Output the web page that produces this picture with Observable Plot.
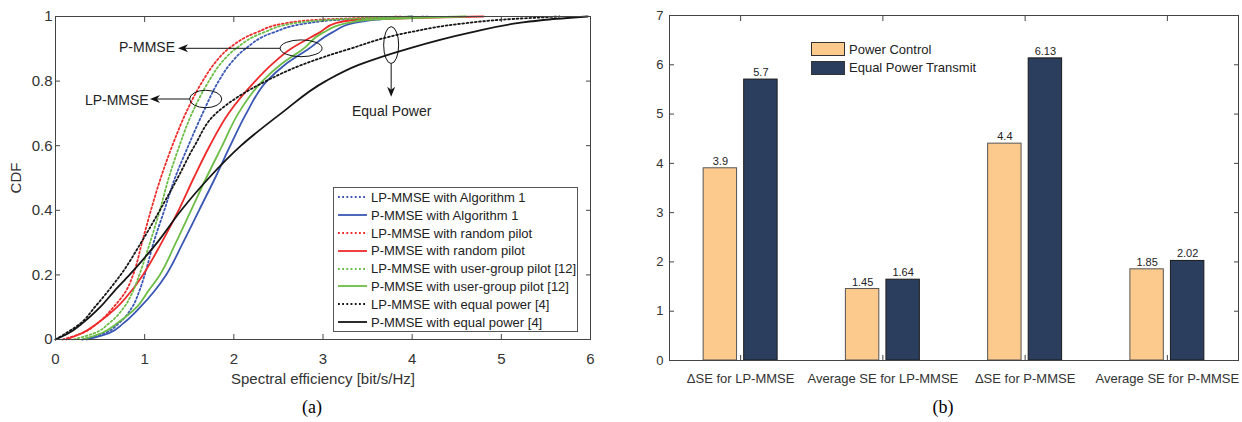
<!DOCTYPE html>
<html><head><meta charset="utf-8">
<script src="https://cdn.jsdelivr.net/npm/d3@7"></script>
<script src="https://cdn.jsdelivr.net/npm/@observablehq/plot@0.6"></script>
<style>
body{margin:0;background:#fff;font-family:"Liberation Sans",Arial,sans-serif;}
#wrap{position:relative;width:1242px;height:422px;overflow:hidden;background:#fff}
.panel{position:absolute;top:0}
.cap{position:absolute;top:397px;font-family:"Liberation Serif","Times New Roman",serif;font-size:18px;color:#000;transform:translateX(-50%);line-height:21px}
#legA{position:absolute;left:333px;top:187px;width:245px;height:145px;border:1px solid #555;background:#fff;box-sizing:border-box}
.row{position:absolute;left:0;height:18px;display:flex;align-items:center;font-size:13px;color:#222;white-space:nowrap}
.row svg{flex:none}
#legB{position:absolute;left:811px;top:40px}
.brow{position:relative;height:18.5px;display:flex;align-items:center;font-size:13px;color:#222;white-space:nowrap}
.patch{width:32px;height:12px;border:1px solid #333;margin-right:4px}
</style></head>
<body>
<div id="wrap">
  <div id="left" class="panel" style="left:0"></div>
  <div id="right" class="panel" style="left:621px"></div>
  <div id="legA"></div>
  <div id="legB"></div>
  <div class="cap" style="left:312px">(a)</div>
  <div class="cap" style="left:943px">(b)</div>
</div>
<script>
// ---------- Panel (a): CDF data (spectral efficiency at each CDF level) ----------
const cdfLevels  = [0, 0.02, 0.05, 0.1, 0.15, 0.2, 0.3, 0.4, 0.5, 0.6, 0.7, 0.8, 0.85, 0.9, 0.95, 0.98, 0.99, 1];
const seLpAlg1   = [0.30,0.55,0.71,0.86,0.94,1.00,1.10,1.22,1.34,1.49,1.65,1.83,1.95,2.13,2.44,2.85,3.20,4.20];
const sePAlg1    = [0.35,0.60,0.76,0.95,1.11,1.24,1.43,1.61,1.79,1.96,2.14,2.37,2.57,2.84,3.10,3.35,3.60,4.00];
const seLpRandom = [0.08,0.30,0.47,0.65,0.79,0.87,0.97,1.07,1.18,1.31,1.46,1.65,1.77,1.94,2.25,2.60,2.95,3.90];
const sePRandom  = [0.12,0.30,0.47,0.69,0.85,0.98,1.19,1.38,1.55,1.73,1.94,2.24,2.42,2.64,2.96,3.15,3.40,4.80];
const seLpGroup  = [0.20,0.44,0.60,0.77,0.87,0.94,1.06,1.17,1.27,1.39,1.53,1.72,1.84,2.02,2.33,2.70,3.10,4.00];
const sePGroup   = [0.30,0.52,0.69,0.91,1.04,1.17,1.35,1.52,1.69,1.87,2.05,2.32,2.52,2.78,3.00,3.28,3.50,4.60];
const seLpEqual  = [0.00,0.12,0.28,0.44,0.59,0.73,0.96,1.17,1.37,1.56,1.80,2.36,2.76,3.30,3.95,4.62,5.00,5.65];
const sePEqual   = [0.00,0.15,0.30,0.50,0.66,0.83,1.14,1.41,1.72,2.08,2.53,3.03,3.40,3.95,4.65,5.20,5.50,5.97];

const seriesNames = ["LP-MMSE with Algorithm 1","P-MMSE with Algorithm 1","LP-MMSE with random pilot","P-MMSE with random pilot",
  "LP-MMSE with user-group pilot [12]","P-MMSE with user-group pilot [12]","LP-MMSE with equal power [4]","P-MMSE with equal power [4]"];
const seriesValues = [seLpAlg1, sePAlg1, seLpRandom, sePRandom, seLpGroup, sePGroup, seLpEqual, sePEqual];
const seriesColors = ["#3a57b5","#3a57b5","#ee2a2a","#ee2a2a","#6cbd45","#6cbd45","#151515","#151515"];
const seriesDotted = [true,false,true,false,true,false,true,false];

const xTicksA = [0,1,2,3,4,5,6];
const yTicksA = [0,0.2,0.4,0.6,0.8,1];

// annotations (data coordinates)
const annoTextEnd = [
  {label:"P-MMSE", x:1.34, y:0.903},
  {label:"LP-MMSE", x:1.045, y:0.74}
];
const annoTextMid = [
  {label:"Equal Power", x:3.77, y:0.706}
];
const annoEllipses = [
  {x:2.76, y:0.90, rx:0.235, ry:0.026},
  {x:1.69, y:0.743, rx:0.18, ry:0.027},
  {x:3.77, y:0.91, rx:0.084, ry:0.057}
];
const annoArrows = [
  {x1:2.525, y1:0.90, x2:1.38, y2:0.90},
  {x1:1.51, y1:0.743, x2:1.065, y2:0.743},
  {x1:3.77, y1:0.853, x2:3.77, y2:0.75}
];

// ---------- Panel (b): bar data ----------
const categories = ["\u0394SE for LP-MMSE","Average SE for LP-MMSE","\u0394SE for P-MMSE","Average SE for P-MMSE"];
const powerControl = [3.9, 1.45, 4.4, 1.85];
const equalPowerTransmit = [5.7, 1.64, 6.13, 2.02];
const barSeries = ["Power Control","Equal Power Transmit"];
const barColors = ["#fdca8d","#2c3e5e"];
const yTicksB = [0,1,2,3,4,5,6,7];

const FONT = '"Liberation Sans", Arial, sans-serif';
const AXC = "#444";
const DOTS = "1.8,2.4";

// ---------- build panel (a) ----------
const lineMarks = seriesValues.map((vals, i) => {
  const rows = cdfLevels.map((c, k) => ({se: vals[k], cdf: c}));
  return Plot.line(rows, {x:"se", y:"cdf", stroke: seriesColors[i], strokeWidth: 1.8,
    strokeDasharray: seriesDotted[i] ? DOTS : null, curve: "monotone-y"});
});

const left = Plot.plot({
  width: 621, height: 392,
  marginLeft: 55, marginRight: 31, marginTop: 16, marginBottom: 53,
  style: {fontFamily: FONT, color: "#333", background: "transparent"},
  x: {domain: [0, 6]},
  y: {domain: [0, 1]},
  marks: [
    ...lineMarks,
    Plot.text(annoTextEnd, {x:"x", y:"y", text:"label", textAnchor: "end", fontSize: 14, fill: "#222"}),
    Plot.text(annoTextMid, {x:"x", y:"y", text:"label", textAnchor: "middle", fontSize: 14, fill: "#222"}),
    Plot.axisX(xTicksA, {anchor:"bottom", tickSize:-5, tickPadding:19, tickFormat: d => String(d), fontSize:15, stroke: AXC,
      label:"Spectral efficiency [bit/s/Hz]", labelAnchor:"center", labelArrow:"none", labelOffset:44}),
    Plot.axisX(xTicksA, {anchor:"top", tickSize:-5, tickFormat: () => "", stroke: AXC, label:null}),
    Plot.axisY(yTicksA, {anchor:"left", tickSize:-5, tickPadding:8, tickFormat: d => String(d), fontSize:15, stroke: AXC,
      label:"CDF", labelAnchor:"center", labelArrow:"none", labelOffset:45}),
    Plot.axisY(yTicksA, {anchor:"right", tickSize:-5, tickFormat: () => "", stroke: AXC, label:null}),
    Plot.frame({stroke: AXC, strokeWidth: 1})
  ]
});
document.getElementById("left").appendChild(left);

// ellipses and arrows placed through the plot's own scales
{
  const sx = left.scale("x"), sy = left.scale("y");
  const X = d3.scaleLinear(sx.domain, sx.range), Y = d3.scaleLinear(sy.domain, sy.range);
  const g = d3.select(left).append("g").attr("fill", "none").attr("stroke", "#111").attr("stroke-width", 1);
  annoEllipses.forEach(e => {
    g.append("ellipse").attr("cx", X(e.x)).attr("cy", Y(e.y))
      .attr("rx", Math.abs(X(e.x + e.rx) - X(e.x))).attr("ry", Math.abs(Y(e.y + e.ry) - Y(e.y)));
  });
  annoArrows.forEach(a => {
    const x1 = X(a.x1), y1 = Y(a.y1), x2 = X(a.x2), y2 = Y(a.y2);
    const ang = Math.atan2(y2 - y1, x2 - x1);
    const L = 10, W = 4, N = 7;
    const ux = Math.cos(ang), uy = Math.sin(ang), px = -uy, py = ux;
    g.append("line").attr("x1", x1).attr("y1", y1).attr("x2", x2 - ux * N).attr("y2", y2 - uy * N);
    const p = [
      [x2, y2],
      [x2 - ux * L + px * W, y2 - uy * L + py * W],
      [x2 - ux * N, y2 - uy * N],
      [x2 - ux * L - px * W, y2 - uy * L - py * W]
    ];
    g.append("path").attr("d", "M" + p.map(q => q.join(",")).join("L") + "Z").attr("fill", "#111").attr("stroke", "none");
  });
}

// legend (a)
{
  const legA = document.getElementById("legA");
  seriesNames.forEach((name, i) => {
    const row = document.createElement("div");
    row.className = "row";
    row.style.top = (0.4 + i * 17.8) + "px";
    row.innerHTML = `<svg width="37" height="18"><line x1="4" x2="33" y1="9" y2="9" stroke="${seriesColors[i]}" stroke-width="1.8" ${seriesDotted[i] ? `stroke-dasharray="${DOTS}"` : ''}/></svg><span>${name}</span>`;
    legA.appendChild(row);
  });
}

// ---------- build panel (b) ----------
const barRows = categories.flatMap((c, i) => [
  {pos: i + 1, series: 0, value: powerControl[i]},
  {pos: i + 1, series: 1, value: equalPowerTransmit[i]}
]);
const pcRows = barRows.filter(d => d.series === 0);
const epRows = barRows.filter(d => d.series === 1);

const right = Plot.plot({
  width: 621, height: 392,
  marginLeft: 48, marginRight: 4, marginTop: 15, marginBottom: 32,
  style: {fontFamily: FONT, color: "#333", background: "transparent"},
  x: {domain: [0.5, 4.5]},
  y: {domain: [0, 7]},
  marks: [
    Plot.rect(pcRows, {x1: d => d.pos - 0.26, x2: d => d.pos - 0.025, y1: 0, y2: "value", fill: barColors[0], stroke: "#555", strokeWidth: 1}),
    Plot.rect(epRows, {x1: d => d.pos + 0.025, x2: d => d.pos + 0.26, y1: 0, y2: "value", fill: barColors[1], stroke: "#1a1a1a", strokeWidth: 1}),
    Plot.text(pcRows, {x: d => d.pos - 0.1425, y: "value", text: d => String(d.value), dy: -7, fontSize: 11, fill: "#222"}),
    Plot.text(epRows, {x: d => d.pos + 0.1425, y: "value", text: d => String(d.value), dy: -7, fontSize: 11, fill: "#222"}),
    Plot.axisX([1,2,3,4], {anchor:"bottom", tickSize:-5, tickPadding:18, tickFormat: d => categories[d - 1], fontSize:13, stroke: AXC, label:null}),
    Plot.axisX([1,2,3,4], {anchor:"top", tickSize:-5, tickFormat: () => "", stroke: AXC, label:null}),
    Plot.axisY(yTicksB, {anchor:"left", tickSize:-5, tickPadding:11, tickFormat: d => String(d), fontSize:13, stroke: AXC, label:null}),
    Plot.axisY(yTicksB, {anchor:"right", tickSize:-5, tickFormat: () => "", stroke: AXC, label:null}),
    Plot.frame({stroke: AXC, strokeWidth: 1})
  ]
});
document.getElementById("right").appendChild(right);

// legend (b)
{
  const legB = document.getElementById("legB");
  barSeries.forEach((name, i) => {
    const row = document.createElement("div");
    row.className = "brow";
    row.innerHTML = `<div class="patch" style="background:${barColors[i]}"></div><span>${name}</span>`;
    legB.appendChild(row);
  });
}
</script>
</body></html>
